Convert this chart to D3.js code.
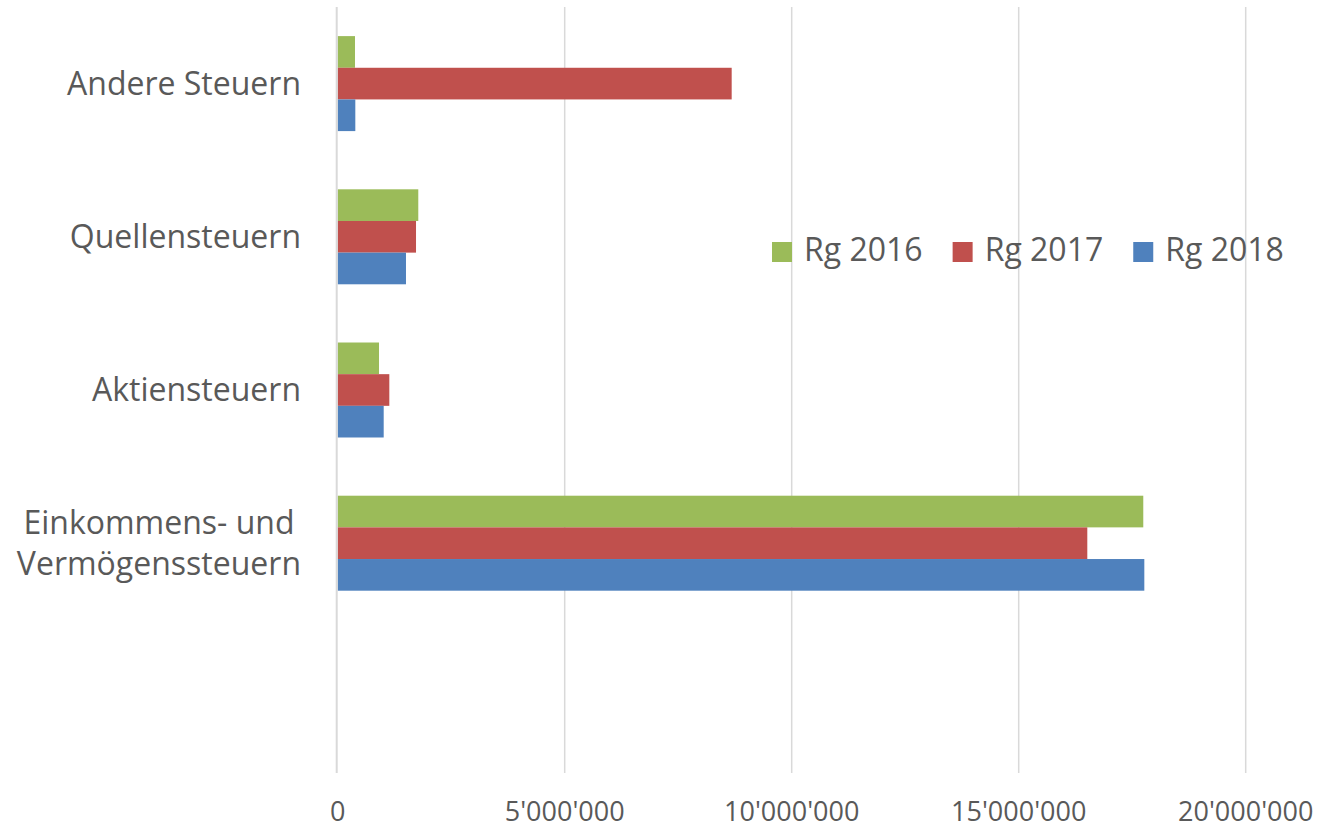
<!DOCTYPE html>
<html>
<head>
<meta charset="utf-8">
<script src="https://cdn.jsdelivr.net/npm/d3@7"></script>
<style>
  body { margin: 0; background: white; }
  text { font-family: "Open Sans", sans-serif; fill: #595959; }
</style>
</head>
<body>
<svg id="plot"></svg>
<script>
// Data (categories top to bottom, last one is an empty slot like in the original)
const categories = ["Andere Steuern", "Quellensteuern", "Aktiensteuern", "Einkommens- und\nVermögenssteuern", ""];
const seriesNames = ["Rg 2016", "Rg 2017", "Rg 2018"];
const rg2016 = [381000, 1775000, 910000, 17744000, null];
const rg2017 = [8678000, 1725000, 1137000, 16511000, null];
const rg2018 = [388000, 1504000, 1013000, 17767000, null];
const xTicks = [0, 5000000, 10000000, 15000000, 20000000];
const colors = ["#9bbb59", "#c0504d", "#4f81bd"];

const series = [rg2016, rg2017, rg2018];

let width = 1325, height = 830;
let margin = {
  top: 7,
  bottom: 57,
  left: 337.7,
  right: 79.3
}

let svg = d3.select('#plot')
          .attr('width', width)
          .attr('height', height)
          .style('background', 'white')

let xScale = d3.scaleLinear()
    .domain([0, 20000000])
    .range([margin.left, width - margin.right]);

let yScale = d3.scaleBand()
    .domain(categories.map((d, i) => i))
    .range([margin.top, height - margin.bottom])
    .paddingInner(0.38)
    .paddingOuter(0.19);

let ySub = d3.scaleBand()
    .domain(seriesNames)
    .range([0, yScale.bandwidth()]);

// gridlines
svg.append('g')
    .selectAll('line')
    .data(xTicks.slice(1))
    .enter()
    .append('line')
    .attr('x1', d => xScale(d))
    .attr('x2', d => xScale(d))
    .attr('y1', margin.top)
    .attr('y2', height - margin.bottom)
    .attr('stroke', '#d9d9d9')
    .attr('stroke-width', 1.5);

// bars
let groups = svg.selectAll('.grp')
    .data(categories)
    .enter()
    .append('g')
    .attr('class', 'grp')
    .attr('transform', (d, i) => `translate(0, ${yScale(i)})`);

groups.selectAll('rect')
    .data((d, i) => series.map((s, j) => ({ name: seriesNames[j], value: s[i], color: colors[j] })).filter(e => e.value != null))
    .enter()
    .append('rect')
    .attr('x', xScale(0))
    .attr('y', d => ySub(d.name))
    .attr('width', d => xScale(d.value) - xScale(0))
    .attr('height', ySub.bandwidth())
    .attr('fill', d => d.color);

// vertical axis line at zero
svg.append('line')
    .attr('x1', xScale(0) - 1)
    .attr('x2', xScale(0) - 1)
    .attr('y1', margin.top)
    .attr('y2', height - margin.bottom)
    .attr('stroke', '#d9d9d9')
    .attr('stroke-width', 2);

// x tick labels
let fmt = d => d3.format(',')(d).replace(/,/g, "'");
svg.append('g')
    .selectAll('text')
    .data(xTicks)
    .enter()
    .append('text')
    .attr('x', d => xScale(d))
    .attr('y', 821)
    .attr('text-anchor', 'middle')
    .style('font-size', '27px')
    .text(d => fmt(d));

// category labels
categories.forEach(function(c, i) {
  if (c === "") return;
  let lines = c.split("\n");
  let cy = yScale(i) + yScale.bandwidth() / 2;
  let t = svg.append('text')
      .style('font-size', '32px')
      .attr('text-anchor', lines.length > 1 ? 'middle' : 'end');
  if (lines.length === 1) {
    t.attr('x', 301).attr('y', cy).attr('dy', '0.35em').text(c);
  } else {
    let spans = lines.map((l, k) => t.append('tspan')
        .attr('y', cy + (k - (lines.length - 1) / 2) * 41)
        .attr('dy', '0.35em')
        .text(l));
    let w = d3.max(spans, s => s.node().getComputedTextLength());
    spans.forEach(s => s.attr('x', 301 - w / 2));
  }
});

// legend
let lx = 772;
seriesNames.forEach(function(n, j) {
  svg.append('rect')
      .attr('x', lx)
      .attr('y', 242)
      .attr('width', 20)
      .attr('height', 20)
      .attr('fill', colors[j]);
  let t = svg.append('text')
      .attr('x', lx + 32)
      .attr('y', 261)
      .style('font-size', '32px')
      .text(n);
  lx += 32 + t.node().getComputedTextLength() + 30;
});
</script>
</body>
</html>
